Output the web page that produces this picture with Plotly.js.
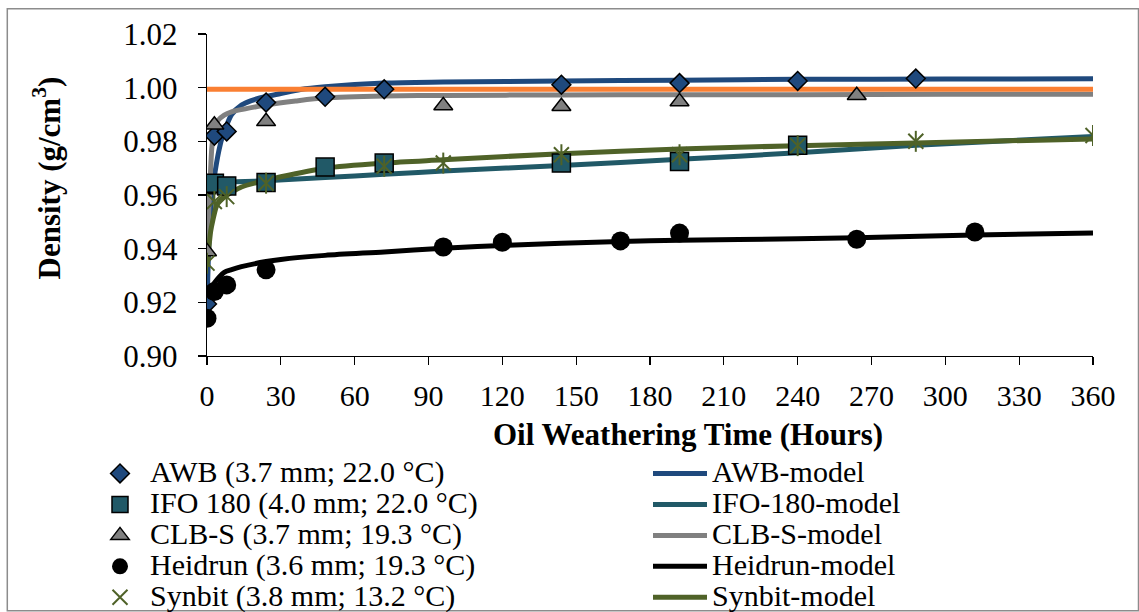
<!DOCTYPE html>
<html>
<head>
<meta charset="utf-8">
<script src="https://cdn.plot.ly/plotly-3.0.1.min.js"></script>
<style>
  html, body { margin: 0; padding: 0; background: #ffffff; }
  #chart { width: 1139px; height: 612px; }
</style>
</head>
<body>
<div id="chart"></div>
<script>
// ---- Measured data (hours, density g/cm3) ----
var awbT = [0, 3, 8, 24, 48, 72, 144, 192, 240, 288];
var awbV = [0.9194, 0.9821, 0.9837, 0.9945, 0.9966, 0.9994, 1.0011, 1.0017, 1.0025, 1.0034];

var ifoT = [0, 3, 8, 24, 48, 72, 144, 192, 240];
var ifoV = [0.9638, 0.9644, 0.9634, 0.9647, 0.9704, 0.9719, 0.9719, 0.9725, 0.9785];

var clbT = [0, 3, 24, 96, 144, 192, 264];
var clbV = [0.9389, 0.9861, 0.9874, 0.9933, 0.9930, 0.9948, 0.9971];

var heidT = [0, 3, 8, 24, 96, 120, 168, 192, 264, 312];
var heidV = [0.9141, 0.9240, 0.9265, 0.9321, 0.9406, 0.9424, 0.9429, 0.9458, 0.9435, 0.9462];

var synT = [0, 3, 8, 24, 72, 96, 144, 192, 240, 288, 360];
var synV = [0.9346, 0.9576, 0.9594, 0.9644, 0.9707, 0.9719, 0.9750, 0.9750, 0.9784, 0.9800, 0.9822];

// ---- Model curves ----
var awbModelT = [0, 0.5, 1, 2, 3.3, 4.8, 6, 8, 10, 14, 18, 24, 30, 38, 48, 72, 96, 144, 192, 240, 300, 360];
var awbModelV = [0.919, 0.935, 0.946, 0.960, 0.9687, 0.9764, 0.981, 0.986, 0.9900, 0.9935, 0.9952, 0.9967, 0.9978, 0.9993, 1.0003, 1.0017, 1.0021, 1.0025, 1.0028, 1.0031, 1.0032, 1.0033];

var ifoModelT = [0, 2, 4, 8, 12, 24, 48, 72, 96, 144, 192, 240, 288, 360];
var ifoModelV = [0.9635, 0.9640, 0.9644, 0.9647, 0.9649, 0.9653, 0.9665, 0.9677, 0.9689, 0.9710, 0.9733, 0.9757, 0.9785, 0.9818];

var clbModelT = [0, 0.5, 1, 1.5, 2, 3, 4.5, 7, 10, 16, 24, 36, 48, 72, 96, 144, 192, 240, 300, 360];
var clbModelV = [0.9396, 0.950, 0.960, 0.970, 0.978, 0.9845, 0.9878, 0.9898, 0.9910, 0.9922, 0.9935, 0.9950, 0.9962, 0.9969, 0.9971, 0.9973, 0.9974, 0.9974, 0.9975, 0.9975];

var heidModelT = [0, 0.5, 1, 2, 3, 5, 7, 10, 14, 24, 30, 48, 72, 96, 120, 168, 192, 240, 264, 312, 360];
var heidModelV = [0.919, 0.9215, 0.9235, 0.9258, 0.9272, 0.9295, 0.9312, 0.9322, 0.9333, 0.9352, 0.9360, 0.9375, 0.9388, 0.9402, 0.9412, 0.9427, 0.9431, 0.9437, 0.9441, 0.9451, 0.9458];

var synModelT = [0, 0.5, 1, 1.5, 2.4, 3.8, 5, 7.2, 10, 14, 24, 30, 48, 72, 96, 144, 192, 240, 288, 360];
var synModelV = [0.9333, 0.938, 0.9425, 0.9465, 0.9507, 0.9557, 0.9577, 0.9594, 0.9610, 0.9630, 0.9655, 0.9668, 0.9700, 0.9719, 0.9731, 0.9754, 0.9771, 0.9784, 0.9794, 0.9809];

var refT = [0, 360];
var refV = [0.9994, 0.9994];

// ---- Labels ----
var markerNames = ['AWB (3.7 mm; 22.0 °C)', 'IFO 180 (4.0 mm; 22.0 °C)', 'CLB-S (3.7 mm; 19.3 °C)', 'Heidrun (3.6 mm; 19.3 °C)', 'Synbit (3.8 mm; 13.2 °C)'];
var modelNames = ['AWB-model', 'IFO-180-model', 'CLB-S-model', 'Heidrun-model', 'Synbit-model'];
var xTickVals = [0, 30, 60, 90, 120, 150, 180, 210, 240, 270, 300, 330, 360];
var yTickVals = [0.90, 0.92, 0.94, 0.96, 0.98, 1.00, 1.02];
var xTitle = 'Oil Weathering Time (Hours)';
var yTitle = 'Density (g/cm<sup>3</sup>)';

var cAWB = '#1F497D', cIFO = '#215967', cCLB = '#808080', cHeid = '#000000', cSyn = '#4F6228', cRef = '#FA7F32';
var FONT = 'Liberation Serif, Times New Roman, serif';

function big(t) { return '<span style="font-size:30px">' + t + '</span>'; }

function modelTrace(t, v, name, color) {
  return { x: t, y: v, name: big(name), type: 'scatter', mode: 'lines',
    line: { color: color, width: 5, shape: 'spline', smoothing: 0.8 }, legend: 'legend2', hoverinfo: 'skip' };
}

var traces = [
  modelTrace(awbModelT, awbModelV, modelNames[0], cAWB),
  modelTrace(ifoModelT, ifoModelV, modelNames[1], cIFO),
  modelTrace(clbModelT, clbModelV, modelNames[2], cCLB),
  modelTrace(heidModelT, heidModelV, modelNames[3], cHeid),
  modelTrace(synModelT, synModelV, modelNames[4], cSyn),
  { x: refT, y: refV, name: 'Reference', type: 'scatter', mode: 'lines', showlegend: false,
    line: { color: cRef, width: 5 } },
  { x: awbT, y: awbV, name: big(markerNames[0]), type: 'scatter', mode: 'markers', legend: 'legend',
    marker: { symbol: 'diamond', size: 14.5, color: cAWB, line: { color: '#000', width: 1.5 } } },
  { x: ifoT, y: ifoV, name: big(markerNames[1]), type: 'scatter', mode: 'markers', legend: 'legend',
    marker: { symbol: 'square', size: 18, color: cIFO, line: { color: '#000', width: 1.5 } } },
  { x: clbT, y: clbV, name: big(markerNames[2]), type: 'scatter', mode: 'markers', legend: 'legend',
    marker: { symbol: 'triangle-up', size: 16.5, color: cCLB, line: { color: '#000', width: 1.5 } } },
  { x: heidT, y: heidV, name: big(markerNames[3]), type: 'scatter', mode: 'markers', legend: 'legend',
    marker: { symbol: 'circle', size: 19, color: cHeid, line: { color: '#000', width: 0 } } },
  { x: synT, y: synV, name: big(markerNames[4]), type: 'scatter', mode: 'markers', legend: 'legend',
    marker: { symbol: 'x-thin-open', size: 15, color: cSyn, line: { color: cSyn, width: 2 } } },
  { x: synT, y: synV, name: 'Synbit (vertical stroke)', type: 'scatter', mode: 'markers', showlegend: false,
    marker: { symbol: 'line-ns-open', size: 15, color: cSyn, line: { color: cSyn, width: 2 } } }
];

var layout = {
  width: 1139, height: 612,
  margin: { l: 207, r: 46, t: 34, b: 256, autoexpand: false },
  paper_bgcolor: '#ffffff', plot_bgcolor: '#ffffff',
  font: { family: FONT, size: 31, color: '#000' },
  showlegend: true,
  xaxis: {
    range: [0, 360], tickvals: xTickVals, ticktext: xTickVals.map(String),
    showgrid: false, zeroline: false, showline: true, linecolor: '#000', linewidth: 1.3,
    ticks: 'outside', ticklen: 8, tickwidth: 1.3, tickcolor: '#000',
    tickfont: { family: FONT, size: 30, color: '#000' }, ticklabelstandoff: 5,
    fixedrange: true
  },
  yaxis: {
    range: [0.90, 1.02], tickvals: yTickVals, ticktext: yTickVals.map(function (v) { return v.toFixed(2); }),
    showgrid: false, zeroline: false, showline: true, linecolor: '#000', linewidth: 1.3,
    ticks: 'outside', ticklen: 8, tickwidth: 1.3, tickcolor: '#000',
    tickfont: { family: FONT, size: 31, color: '#000' }, ticklabelstandoff: 14,
    fixedrange: true
  },
  annotations: [
    { text: '<b>' + xTitle + '</b>', xref: 'paper', yref: 'paper', x: (688 - 207) / 886, y: (356 - 434) / 322,
      xanchor: 'center', yanchor: 'middle', showarrow: false, font: { family: FONT, size: 31, color: '#000' } },
    { text: '<b>' + yTitle + '</b>', xref: 'paper', yref: 'paper', x: (47 - 207) / 886, y: (356 - 178.5) / 322,
      xanchor: 'center', yanchor: 'middle', textangle: -90, showarrow: false, font: { family: FONT, size: 31, color: '#000' } }
  ],
  legend: {
    xref: 'container', yref: 'container', x: 90 / 1139, y: 1 - 453 / 612,
    xanchor: 'left', yanchor: 'top', orientation: 'v', itemwidth: 50,
    font: { family: FONT, size: 21.5, color: '#000' }, tracegroupgap: 0,
    bgcolor: 'rgba(0,0,0,0)', borderwidth: 0
  },
  legend2: {
    xref: 'container', yref: 'container', x: 648 / 1139, y: 1 - 453 / 612,
    xanchor: 'left', yanchor: 'top', orientation: 'v', itemwidth: 54,
    font: { family: FONT, size: 21.5, color: '#000' }, tracegroupgap: 0,
    bgcolor: 'rgba(0,0,0,0)', borderwidth: 0
  },
  shapes: [
    { type: 'rect', xref: 'paper', yref: 'paper',
      x0: (7.3 - 207) / 886, x1: (1138.5 - 207) / 886,
      y0: (356 - 610.7) / 322, y1: (356 - 8.7) / 322,
      line: { color: '#8C8C8C', width: 1.5 }, fillcolor: 'rgba(0,0,0,0)', layer: 'below' }
  ]
};

Plotly.newPlot('chart', traces, layout, { staticPlot: true, displayModeBar: false });
</script>
</body>
</html>
